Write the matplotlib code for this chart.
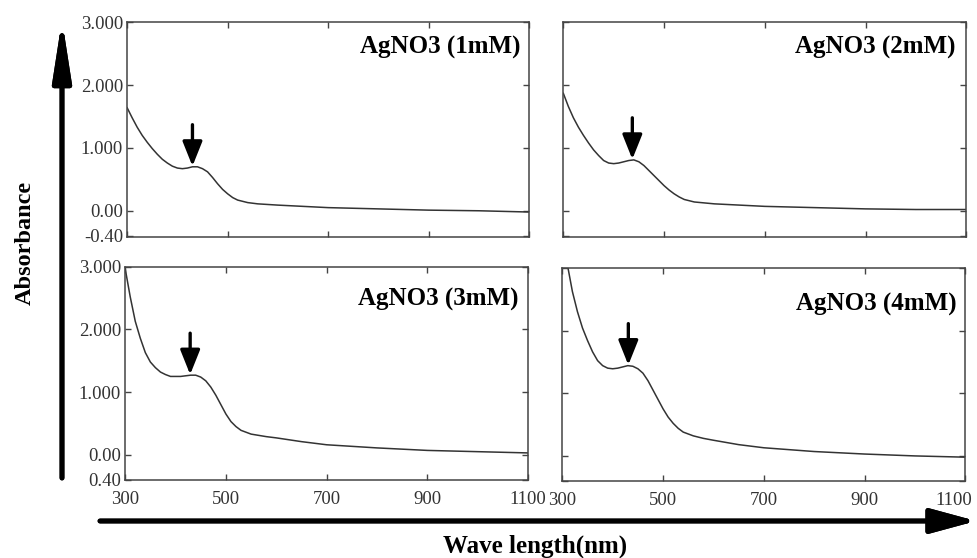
import matplotlib.pyplot as plt
from matplotlib.transforms import ScaledTranslation

plt.rcParams["font.family"] = ["Liberation Serif", "DejaVu Serif"]

# ---- data ----
wl_1mM = [300, 310, 320, 330, 340, 350, 360, 370, 380, 390, 400, 410, 420, 430, 440, 450,
          460, 470, 480, 490, 500, 510, 520, 540, 560, 600, 650, 700, 800, 900, 1000, 1100]
abs_1mM = [1.64, 1.48, 1.33, 1.20, 1.09, 0.99, 0.90, 0.82, 0.76, 0.71, 0.68, 0.67, 0.68, 0.70, 0.70, 0.67,
           0.62, 0.53, 0.43, 0.34, 0.27, 0.21, 0.17, 0.13, 0.11, 0.09, 0.07, 0.05, 0.03, 0.01, 0.00, -0.02]

wl_2mM = [300, 310, 320, 330, 340, 350, 360, 370, 380, 390, 400, 410, 420, 430, 440, 450,
          460, 470, 480, 490, 500, 510, 520, 530, 540, 560, 600, 650, 700, 800, 900, 1000, 1100]
abs_2mM = [1.87, 1.66, 1.48, 1.33, 1.20, 1.08, 0.97, 0.88, 0.80, 0.76, 0.75, 0.76, 0.78, 0.80, 0.81, 0.78,
           0.72, 0.64, 0.56, 0.48, 0.40, 0.33, 0.27, 0.22, 0.18, 0.14, 0.11, 0.09, 0.07, 0.05, 0.03, 0.02, 0.02]

wl_3mM = [300, 310, 320, 330, 340, 350, 360, 370, 380, 390, 400, 410, 420, 430, 440, 450,
          460, 470, 480, 490, 500, 510, 520, 530, 550, 580, 600, 650, 700, 800, 900, 1000, 1100]
abs_3mM = [2.97, 2.52, 2.13, 1.86, 1.63, 1.48, 1.39, 1.32, 1.28, 1.25, 1.25, 1.25, 1.26, 1.27, 1.27, 1.24,
           1.18, 1.08, 0.95, 0.80, 0.65, 0.53, 0.45, 0.39, 0.33, 0.29, 0.27, 0.21, 0.16, 0.11, 0.07, 0.05, 0.03]

wl_4mM = [300, 310, 320, 330, 340, 350, 360, 370, 380, 390, 400, 410, 420, 430, 440, 450,
          460, 470, 480, 490, 500, 510, 520, 530, 540, 560, 580, 600, 650, 700, 800, 900, 1000, 1100]
abs_4mM = [3.60, 3.05, 2.62, 2.30, 2.04, 1.84, 1.66, 1.52, 1.44, 1.40, 1.39, 1.40, 1.42, 1.44, 1.43, 1.39,
           1.32, 1.20, 1.05, 0.90, 0.75, 0.62, 0.52, 0.44, 0.38, 0.32, 0.28, 0.25, 0.18, 0.13, 0.07, 0.03, 0.00, -0.02]

labels = ["AgNO3 (1mM)", "AgNO3 (2mM)", "AgNO3 (3mM)", "AgNO3 (4mM)"]
peak_wl = [430, 437, 429, 431]
peak_abs = [0.71, 0.82, 1.28, 1.45]

x_ticks = [300, 500, 700, 900, 1100]
y_ticks = [-0.4, 0, 1, 2, 3]
y_labels_top = ["-0.40", "0.00", "1.000", "2.000", "3.000"]
y_labels_bottom = ["0.40", "0.00", "1.000", "2.000", "3.000"]

series = [(wl_1mM, abs_1mM), (wl_2mM, abs_2mM), (wl_3mM, abs_3mM), (wl_4mM, abs_4mM)]

# ---- layout (figure fractions) ----
rects = [
    [0.130, 0.575, 0.411, 0.385],
    [0.576, 0.575, 0.412, 0.385],
    [0.128, 0.140, 0.412, 0.382],
    [0.575, 0.138, 0.412, 0.382],
]
label_pos = [(0.978, 0.884), (0.973, 0.884), (0.975, 0.845), (0.978, 0.83)]
ylims = [(-0.42, 3.0), (-0.42, 3.0), (-0.38, 3.0), (-0.38, 3.0)]

fig = plt.figure(figsize=(9.78, 5.58), dpi=100)

for i in range(4):
    ax = fig.add_axes(rects[i])
    wl, ab = series[i]
    ax.plot(wl, ab, color="#333333", lw=1.1)
    ax.set_xlim(300, 1100)
    ax.set_ylim(*ylims[i])
    ax.set_xticks(x_ticks)
    ax.set_yticks(y_ticks)
    ax.tick_params(direction="in", length=4, width=1, color="#444444",
                   top=True, right=True, labelsize=13.5, labelcolor="#333333")
    ax.tick_params(axis="y", pad=3)
    ax.tick_params(axis="x", pad=8)
    if i < 2:
        ax.set_xticklabels([])
    if i in (0, 2):
        ax.set_yticklabels(y_labels_top if i == 0 else y_labels_bottom)
    else:
        ax.set_yticklabels([])
    if i == 3:
        last = ax.get_xticklabels()[-1]
        last.set_transform(last.get_transform() + ScaledTranslation(-8 / 72, 0, fig.dpi_scale_trans))
    for sp in ax.spines.values():
        sp.set_color("#444444")
        sp.set_linewidth(1.1)
    ax.text(label_pos[i][0], label_pos[i][1], labels[i], transform=ax.transAxes,
            ha="right", va="center", fontsize=18, fontweight="bold")
    ax.annotate("", xy=(peak_wl[i], peak_abs[i]), xytext=(peak_wl[i], peak_abs[i] + 0.66),
                arrowprops=dict(arrowstyle="-|>,head_length=0.75,head_width=0.3",
                                lw=2.4, color="black", mutation_scale=20, shrinkA=0, shrinkB=0))

# big axis arrows
fig.add_artist(plt.annotate("", xy=(62 / 978, 1 - 20 / 558), xytext=(62 / 978, 1 - 478 / 558),
                            xycoords="figure fraction", textcoords="figure fraction",
                            arrowprops=dict(arrowstyle="-|>,head_length=1.8,head_width=0.28",
                                            lw=3.5, color="black", mutation_scale=20,
                                            shrinkA=0, shrinkB=0)))
fig.add_artist(plt.annotate("", xy=(976 / 978, 1 - 521 / 558), xytext=(100 / 978, 1 - 521 / 558),
                            xycoords="figure fraction", textcoords="figure fraction",
                            arrowprops=dict(arrowstyle="-|>,head_length=1.4,head_width=0.38",
                                            lw=3.5, color="black", mutation_scale=20,
                                            shrinkA=0, shrinkB=0)))

fig.text(25 / 978, 1 - 243 / 558, "Absorbance", rotation=90, ha="center", va="center",
         fontsize=17.5, fontweight="bold")
fig.text(535 / 978, 1 - 546 / 558, "Wave length(nm)", ha="center", va="center",
         fontsize=18, fontweight="bold")

fig.savefig("out.png", dpi=100)
